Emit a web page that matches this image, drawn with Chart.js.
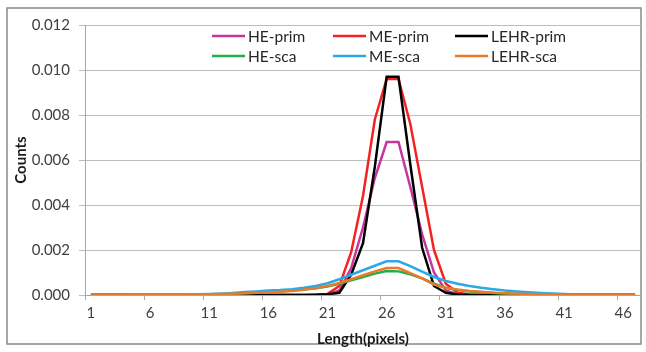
<!DOCTYPE html>
<html>
<head>
<meta charset="utf-8">
<script src="https://cdn.jsdelivr.net/npm/chart.js@4.4.1/dist/chart.umd.min.js"></script>
<style>
  html, body { margin: 0; padding: 0; background: #fff; }
  #wrap { width: 646px; height: 352px; position: relative; }
</style>
</head>
<body>
<div id="wrap"><canvas id="chart"></canvas></div>
<script>
// x categories: Length (pixels)
const lengths = [1,2,3,4,5,6,7,8,9,10,11,12,13,14,15,16,17,18,19,20,21,22,23,24,25,26,27,28,29,30,31,32,33,34,35,36,37,38,39,40,41,42,43,44,45,46,47];
const yTicks = [0, 0.002, 0.004, 0.006, 0.008, 0.010, 0.012];

// primary counts
const hePrim   = [0,0,0,0,0,0,0,0,0,0,0,0,0,0,0,0,0,0,0,0,0.00002,0.0002,0.0012,0.003,0.0052,0.0068,0.0068,0.0048,0.0027,0.001,0.0002,0.00003,0,0,0,0,0,0,0,0,0,0,0,0,0,0,0];
const mePrim   = [0,0,0,0,0,0,0,0,0,0,0,0,0,0,0,0,0,0,0,0,0.00005,0.0004,0.0019,0.0044,0.0078,0.0096,0.0096,0.0076,0.0048,0.002,0.0005,0.0001,0.00002,0,0,0,0,0,0,0,0,0,0,0,0,0,0];
const lehrPrim = [0,0,0,0,0,0,0,0,0,0,0,0,0,0,0,0,0,0,0,0.00001,0.00003,0.0001,0.0009,0.0023,0.0057,0.0097,0.0097,0.0058,0.0021,0.0004,0.0001,0.00002,0,0,0,0,0,0,0,0,0,0,0,0,0,0,0];
// scattered counts
const heSca    = [0,0,0,0.00001,0.00001,0.00001,0.00001,0.00001,0.00002,0.00002,0.00003,0.00004,0.00006,0.00008,0.0001,0.00013,0.00016,0.0002,0.00025,0.0003,0.00038,0.0005,0.00065,0.0008,0.00095,0.00107,0.00105,0.00092,0.00074,0.0005,0.00032,0.00022,0.00016,0.00012,0.00009,0.00007,0.00005,0.00004,0.00003,0.00002,0.00001,0,0,0,0,0,0];
const meSca    = [0,0,0,0.00001,0.00001,0.00001,0.00002,0.00002,0.00002,0.00003,0.00004,0.00006,0.00009,0.00013,0.00016,0.0002,0.00022,0.00026,0.00032,0.0004,0.00052,0.0007,0.0009,0.0011,0.0013,0.0015,0.0015,0.00128,0.00104,0.0008,0.00062,0.0005,0.0004,0.00032,0.00026,0.0002,0.00016,0.00012,0.00009,0.00007,0.00004,0.00002,0.00001,0,0,0,0];
const lehrSca  = [0,0,0,0.00001,0.00001,0.00001,0.00001,0.00001,0.00002,0.00002,0.00003,0.00004,0.00006,0.00008,0.0001,0.00012,0.00014,0.00018,0.00023,0.0003,0.0004,0.00053,0.0007,0.00088,0.00105,0.0012,0.0012,0.00097,0.00074,0.00046,0.00032,0.00024,0.00018,0.00014,0.0001,0.00008,0.00006,0.00004,0.00003,0.00002,0.00001,0,0,0,0,0,0];

const seriesNames  = ['HE-prim', 'ME-prim', 'LEHR-prim', 'HE-sca', 'ME-sca', 'LEHR-sca'];
const seriesValues = [hePrim, mePrim, lehrPrim, heSca, meSca, lehrSca];
const seriesColors = ['#c8349f', '#f52222', '#000000', '#1fae4a', '#2aa9e6', '#ea7a28'];

const FONT = 'Lato, "Open Sans", sans-serif';

// Excel-like legend drawn inside the plot area, 3 columns x 2 rows
const insideLegend = {
  id: 'insideLegend',
  afterDraw(chart) {
    const ctx = chart.ctx;
    const cols = [212, 333, 455];
    const rows = [36, 56];
    ctx.save();
    ctx.font = '15.5px ' + FONT;
    ctx.textBaseline = 'middle';
    ctx.fillStyle = '#262626';
    chart.data.datasets.forEach((ds, i) => {
      const x = cols[i % 3], y = rows[Math.floor(i / 3)];
      ctx.strokeStyle = ds.borderColor;
      ctx.lineWidth = 2.5;
      ctx.beginPath();
      ctx.moveTo(x, y);
      ctx.lineTo(x + 33, y);
      ctx.stroke();
      ctx.fillText(ds.label, x + 36, y + 1);
    });
    ctx.restore();
  }
};

const frame = {
  id: 'frame',
  beforeDraw(chart) {
    const ctx = chart.ctx;
    ctx.save();
    ctx.fillStyle = '#fff';
    ctx.fillRect(0, 0, chart.width, chart.height);
    ctx.strokeStyle = '#8a8a8a';
    ctx.lineWidth = 1.5;
    ctx.strokeRect(7, 8, 634, 336);
    ctx.restore();
  }
};

new Chart(document.getElementById('chart'), {
  type: 'line',
  data: {
    labels: lengths,
    datasets: seriesNames.map((name, i) => ({
      label: name,
      data: seriesValues[i],
      borderColor: seriesColors[i],
      backgroundColor: seriesColors[i],
      borderWidth: 2.5,
      pointRadius: 0,
      tension: 0,
      fill: false,
      order: seriesNames.length - i
    }))
  },
  options: {
    responsive: true,
    maintainAspectRatio: false,
    animation: false,
    layout: { padding: { left: 12, right: 5, top: 25, bottom: 4 } },
    plugins: {
      legend: { display: false },
      tooltip: { enabled: false }
    },
    scales: {
      x: {
        offset: true,
        afterFit: s => { s.height = 53; },
        grid: {
          offset: true,
          drawOnChartArea: false,
          tickLength: 5,
          color: c => (c.index % 5 === 0 ? '#a6a6a6' : 'rgba(0,0,0,0)')
        },
        border: { color: '#a6a6a6', width: 1 },
        ticks: {
          autoSkip: false,
          maxRotation: 0,
          padding: 4,
          color: '#404040',
          font: { family: FONT, size: 15 },
          callback: (v, i) => (i % 5 === 0 ? String(lengths[i]) : '')
        },
        title: {
          display: true,
          text: 'Length(pixels)',
          color: '#1a1a1a',
          padding: 0,
          font: { family: FONT, size: 15, weight: 'bold' }
        }
      },
      y: {
        min: 0,
        max: 0.012,
        afterFit: s => { s.width = 73; },
        afterBuildTicks: s => { s.ticks = yTicks.map(v => ({ value: v })); },
        grid: { color: '#bdbdbd', lineWidth: 1, tickLength: 6 },
        border: { color: '#a6a6a6', width: 1 },
        ticks: {
          padding: 9,
          color: '#404040',
          font: { family: FONT, size: 15 },
          callback: v => v.toFixed(3)
        },
        title: {
          display: true,
          text: 'Counts',
          color: '#1a1a1a',
          padding: 0,
          font: { family: FONT, size: 15, weight: 'bold' }
        }
      }
    }
  },
  plugins: [frame, insideLegend]
});
</script>
</body>
</html>
